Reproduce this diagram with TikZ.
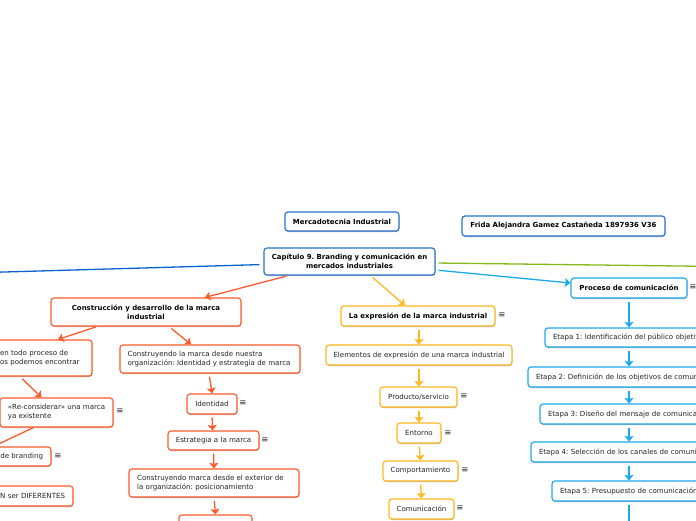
\documentclass[tikz,border=0pt]{standalone}
\usepackage{fontspec}
\setmainfont{DejaVu Sans}
\usetikzlibrary{arrows.meta,shadows}
\definecolor{cTitle}{HTML}{2A6FD0}
\definecolor{cOrange}{HTML}{FF5A2B}
\definecolor{cYellow}{HTML}{FFB71E}
\definecolor{cBlue}{HTML}{1BA9EE}
\definecolor{cDeep}{HTML}{0A62D0}
\definecolor{cGreen}{HTML}{86B81B}
\definecolor{cText}{HTML}{252525}
\tikzset{
  mapbox/.style={draw,fill=white,rounded corners=3pt,line width=1.15pt,inner xsep=2pt,inner ysep=0pt,
    text=cText,font=\fontsize{7.05}{9}\selectfont\frenchspacing,
    drop shadow={shadow xshift=0.4pt,shadow yshift=-1pt,opacity=.3,fill=black}},
  headbox/.style={mapbox,text=black,font=\fontsize{6.95}{9}\selectfont\bfseries\frenchspacing},
  widebox/.style={mapbox,inner xsep=8pt},
  conn/.style={line width=1.3pt,-{Stealth[width=9pt,length=5.5pt,inset=1pt]}},
  menu/.style={inner sep=0pt,text=cText,font=\fontsize{8.5}{9}\selectfont},
}
\tikzset{plainconn/.style={line width=1.3pt}}
% box fitted to its corners, text block centred in it
\newcommand{\mapnode}[7]{%
  \pgfmathsetmacro{\mw}{#5-#3}\pgfmathsetmacro{\mh}{#6-#4}%
  \pgfmathsetmacro{\mx}{(#3+#5)/2}\pgfmathsetmacro{\my}{(#4+#6)/2}%
  \node[#2,minimum height=\mh pt,minimum width=\mw pt] (#1) at (\mx,\my) {#7};}
% box running past the picture edge, text held against one side
\newcommand{\mapedge}[7]{%
  \pgfmathsetmacro{\mh}{#6-#4}\pgfmathsetmacro{\tw}{#5-#3-16}%
  \pgfmathsetmacro{\mx}{(#3+#5)/2}\pgfmathsetmacro{\my}{(#4+#6)/2}%
  \node[widebox,#2,minimum height=\mh pt,text width=\tw pt] (#1) at (\mx,\my) {#7};}
\begin{document}
\begin{tikzpicture}[x=1pt,y=-1pt]
\useasboundingbox (0,0) rectangle (696,520);
\clip (0,0) rectangle (696,520);
% title and root
\mapnode{merc}{headbox,draw=cTitle,align=center}{285}{212}{399}{231}{Mercadotecnia Industrial}
\mapnode{frida}{headbox,draw=cTitle,align=center}{462}{216}{665}{236}{Frida Alejandra Gamez Castañeda 1897936 V36}
\mapnode{cap}{headbox,draw=cTitle,align=center}{264}{248}{435}{275}{Capítulo 9. Branding y comunicación en\\mercados industriales}
% orange branch
\mapnode{cons}{headbox,draw=cOrange,align=center}{51}{298}{241}{326}{Construcción y desarrollo de la marca\\industrial}
\mapedge{lone}{draw=cOrange,align=left}{-60}{340}{92}{376}{\hspace*{52pt}en todo proceso de\\\hspace*{52pt}os podemos encontrar}
\mapnode{nuestra}{mapbox,draw=cOrange,align=left}{120}{345}{300}{373}{Construyendo la marca desde nuestra\\organización: Identidad y estrategia de marca\hspace*{2pt}}
\mapnode{recon}{mapbox,draw=cOrange,align=left}{0}{398}{113}{427}{«Re-considerar» una marca\\ya existente}
\mapedge{brand}{draw=cOrange,align=right}{-40}{447}{51}{466}{de branding}
\mapedge{difer}{draw=cOrange,align=right}{-60}{486}{73}{506}{N ser DIFERENTES}
\mapnode{ident}{mapbox,draw=cOrange,align=center}{187}{394}{237}{414}{Identidad}
\mapnode{estr}{mapbox,draw=cOrange,align=center}{168}{431}{259}{450}{Estrategia a la marca}
\mapnode{exter}{mapbox,draw=cOrange,align=left}{129}{469}{299}{497}{Construyendo marca desde el exterior de\hspace*{7pt}\\la organización: posicionamiento}
\mapnode{posic}{mapbox,draw=cOrange,align=center}{179}{515}{252}{540}{}
% yellow branch
\mapnode{expr}{headbox,draw=cYellow,align=center}{341}{306}{495}{326}{La expresión de la marca industrial}
\mapnode{elem}{mapbox,draw=cYellow,align=center}{326}{345}{512}{365}{Elementos de expresión de una marca industrial}
\mapnode{prod}{mapbox,draw=cYellow,align=center}{380}{387}{457}{407}{Producto/servicio}
\mapnode{ento}{mapbox,draw=cYellow,align=center}{397}{423}{441}{443}{Entorno}
\mapnode{comp}{mapbox,draw=cYellow,align=center}{383}{461}{458}{481}{Comportamiento}
\mapnode{comu}{mapbox,draw=cYellow,align=center}{389}{499}{454}{519}{Comunicación}
% blue branch
\mapnode{proc}{headbox,draw=cBlue,align=center}{571}{278}{687}{298}{Proceso de comunicación}
\mapedge{etaa}{draw=cBlue,align=left}{545}{328}{760}{347}{Etapa 1: Identificación del público objetivo}
\mapedge{etab}{draw=cBlue,align=left}{528}{367}{790}{387}{Etapa 2: Definición de los objetivos de comunicación}
\mapedge{etac}{draw=cBlue,align=left}{540}{404}{780}{424}{Etapa 3: Diseño del mensaje de comunicación}
\mapedge{etad}{draw=cBlue,align=left}{531}{442}{790}{462}{Etapa 4: Selección de los canales de comunicación}
\mapedge{etae}{draw=cBlue,align=left}{552}{481}{760}{501}{Etapa 5: Presupuesto de comunicación}
% free ends
\coordinate (deepend) at (-20,272.7);
\coordinate (greenend) at (760,267);
\coordinate (blueend) at (629,530);
% menu marks
\node[menu] (ma) at (243,403) {≡};
\node[menu] (mb) at (265,440) {≡};
\node[menu] (mc) at (120,411) {≡};
\node[menu] (md) at (58,456) {≡};
\node[menu] (me) at (502,315) {≡};
\node[menu] (mf) at (693,287) {≡};
\node[menu] (mg) at (464,396) {≡};
\node[menu] (mh) at (448,433) {≡};
\node[menu] (mi) at (465,470) {≡};
\node[menu] (mj) at (460,508) {≡};
% root connectors
\draw[plainconn,cDeep,shorten <=4pt] ([yshift=-3pt]cap.west) -- (deepend);
\draw[plainconn,cGreen,shorten <=3pt] ([yshift=-1.5pt]cap.east) -- (greenend);
\draw[conn,cBlue,shorten <=3pt] ([yshift=-8.5pt]cap.east) -- ([yshift=5pt]proc.west);
\draw[conn,cOrange,shorten <=2pt] ([xshift=-61pt]cap.south) -- ([xshift=59pt]cons.north);
\draw[conn,cYellow,shorten <=3pt] ([xshift=21pt]cap.south) -- ([xshift=-13pt]expr.north);
% orange connectors
\draw[conn,cOrange,shorten <=1pt] ([xshift=-49pt]cons.south) -- ([xshift=42pt]lone.north);
\draw[conn,cOrange,shorten <=3pt] ([xshift=23pt]cons.south) -- ([xshift=-19pt]nuestra.north);
\draw[conn,cOrange,shorten <=3pt] ([xshift=4pt]lone.south) -- ([xshift=-15pt]recon.north);
\draw[conn,cOrange] ([xshift=-23pt]recon.south) -- ([xshift=-12pt]brand.north);
\draw[conn,cOrange,shorten <=3pt] ([xshift=-1pt]nuestra.south) -- (ident.north);
\draw[conn,cOrange,shorten <=3pt] (ident.south) -- ([xshift=-1pt]estr.north);
\draw[conn,cOrange,shorten <=3pt] (estr.south) -- (exter.north);
\draw[conn,cOrange,shorten <=3pt] (exter.south) -- (posic.north);
% yellow connectors
\draw[conn,cYellow,shorten <=3pt] ([xshift=1pt]expr.south) -- (elem.north);
\draw[conn,cYellow,shorten <=3pt] (elem.south) -- ([xshift=0.5pt]prod.north);
\draw[conn,cYellow,shorten <=3pt] ([xshift=0.5pt]prod.south) -- (ento.north);
\draw[conn,cYellow,shorten <=3pt] (ento.south) -- (comp.north);
\draw[conn,cYellow,shorten <=3pt] (comp.south) -- (comu.north);
% blue connectors
\draw[conn,cBlue,shorten <=3pt] (proc.south) -- ([xshift=-23.5pt]etaa.north);
\draw[conn,cBlue,shorten <=3pt] ([xshift=-23.5pt]etaa.south) -- ([xshift=-30pt]etab.north);
\draw[conn,cBlue,shorten <=3pt] ([xshift=-30pt]etab.south) -- ([xshift=-31pt]etac.north);
\draw[conn,cBlue,shorten <=3pt] ([xshift=-31pt]etac.south) -- ([xshift=-31.5pt]etad.north);
\draw[conn,cBlue,shorten <=3pt] ([xshift=-31.5pt]etad.south) -- ([xshift=-27pt]etae.north);
\draw[conn,cBlue,shorten <=3pt] ([xshift=-27pt]etae.south) -- (blueend);
\end{tikzpicture}
\end{document}
